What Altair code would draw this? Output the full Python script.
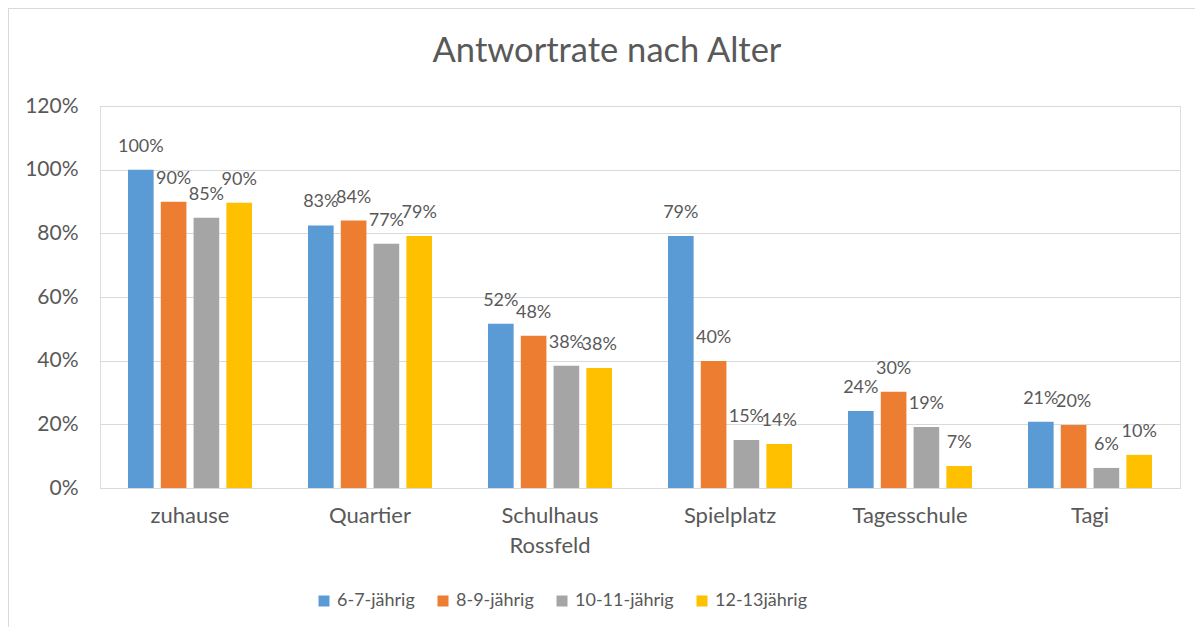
import altair as alt
import pandas as pd

categories = ["zuhause", "Quartier", "Schulhaus Rossfeld", "Spielplatz", "Tagesschule", "Tagi"]
groups = ["6-7-jährig", "8-9-jährig", "10-11-jährig", "12-13jährig"]
v_6_7 = [1.00, 0.825, 0.516, 0.792, 0.242, 0.208]
v_8_9 = [0.899, 0.840, 0.478, 0.399, 0.302, 0.198]
v_10_11 = [0.849, 0.767, 0.384, 0.151, 0.192, 0.063]
v_12_13 = [0.896, 0.792, 0.377, 0.138, 0.069, 0.104]
colors = ["#5B9BD5", "#ED7D31", "#A5A5A5", "#FFC000"]
y_ticks = [0, 0.2, 0.4, 0.6, 0.8, 1.0, 1.2]

rows = []
for g, vals in zip(groups, [v_6_7, v_8_9, v_10_11, v_12_13]):
    for c, v in zip(categories, vals):
        rows.append({"Ort": c, "Gruppe": g, "Wert": v})
df = pd.DataFrame(rows)

FONT = "Lato"
GREY = "#595959"
GRID = "#D9D9D9"

x_enc = alt.X(
    "Ort:N",
    sort=categories,
    scale=alt.Scale(paddingInner=0.311, paddingOuter=0.1555),
    axis=alt.Axis(
        title=None,
        labelAngle=0,
        ticks=False,
        domainColor=GRID,
        labelPadding=17,
        labelFont=FONT,
        labelColor=GREY,
        labelFontSize=22,
        labelLineHeight=30,
        labelExpr="datum.label == 'Schulhaus Rossfeld' ? ['Schulhaus', 'Rossfeld'] : datum.label",
    ),
)
xoff_enc = alt.XOffset("Gruppe:N", sort=groups, scale=alt.Scale(paddingInner=0.218, paddingOuter=0))
y_enc = alt.Y(
    "Wert:Q",
    scale=alt.Scale(domain=[0, 1.2], nice=False),
    axis=alt.Axis(
        title=None,
        values=y_ticks,
        format=".0%",
        ticks=False,
        domain=False,
        gridColor=GRID,
        labelPadding=22,
        labelFont=FONT,
        labelColor=GREY,
        labelFontSize=21,
    ),
)

bars = alt.Chart(df).mark_bar().encode(
    x=x_enc,
    xOffset=xoff_enc,
    y=y_enc,
    color=alt.Color(
        "Gruppe:N",
        sort=groups,
        scale=alt.Scale(domain=groups, range=colors),
        legend=alt.Legend(
            title=None,
            orient="none",
            legendX=215,
            legendY=486,
            direction="horizontal",
            columns=4,
            symbolType="square",
            symbolSize=121,
            symbolStrokeWidth=0,
            labelFont=FONT,
            labelColor=GREY,
            labelFontSize=18,
            labelOffset=4,
            columnPadding=19,
        ),
    ),
)

labels = alt.Chart(df).mark_text(
    baseline="middle", dy=-23, fontSize=18, font=FONT, color=GREY
).encode(
    x=alt.X("Ort:N", sort=categories),
    xOffset=alt.XOffset("Gruppe:N", sort=groups),
    y="Wert:Q",
    text=alt.Text("Wert:Q", format=".0%"),
)

one = pd.DataFrame({"a": [0]})
left_line = alt.Chart(one).mark_rule(color=GRID, strokeWidth=1).encode(
    x=alt.value(-91.5), y=alt.value(-98), y2=alt.value(521)
)
top_line = alt.Chart(one).mark_rule(color=GRID, strokeWidth=1).encode(
    x=alt.value(-92), x2=alt.value(1095), y=alt.value(-97.5)
)

chart = (
    alt.layer(bars, labels, left_line, top_line)
    .properties(
        width=1080,
        height=382,
        autosize=alt.AutoSizeParams(type="none"),
        padding={"left": 92, "top": 98, "right": 15, "bottom": 139},
        title=alt.TitleParams(
            "Antwortrate nach Alter",
            fontSize=34.5,
            font=FONT,
            fontWeight="normal",
            color=GREY,
            anchor="middle",
            baseline="alphabetic",
            offset=-89,
            dx=-33,
        ),
    )
    .configure_view(stroke=None)
    .configure(background="white")
)

chart.save("out.html", embed_options={"renderer": "svg", "actions": False})
